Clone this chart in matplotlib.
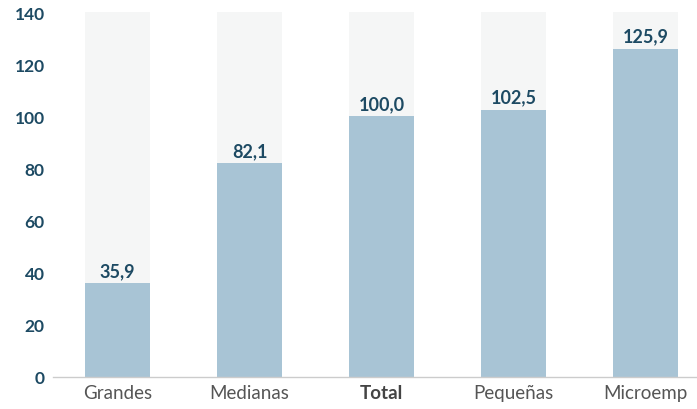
import matplotlib
matplotlib.use("Agg")
import matplotlib.pyplot as plt
from matplotlib.transforms import ScaledTranslation

categories = ["Grandes", "Medianas", "Total", "Pequeñas", "Microemp"]
values = [35.9, 82.1, 100.0, 102.5, 125.9]
value_labels = ["35,9", "82,1", "100,0", "102,5", "125,9"]
y_ticks = [0, 20, 40, 60, 80, 100, 120, 140]
y_max = 140

BAR = "#a8c4d5"
BG = "#f5f6f6"
NAVY = "#1d4a63"
GREY = "#555555"

plt.rcParams["font.family"] = ["Lato", "DejaVu Sans"]

fig = plt.figure(figsize=(6.97, 4.10), dpi=100)
ax = fig.add_axes([53 / 697, 32 / 410, 1 - 53 / 697, (378 - 13) / 410])

x = list(range(len(categories)))
ax.bar(x, [y_max] * len(x), width=0.49, color=BG, zorder=1)
ax.bar(x, values, width=0.49, color=BAR, zorder=2)

for xi, v, lab in zip(x, values, value_labels):
    ax.annotate(lab, (xi, v), xytext=(0, 3), textcoords="offset points",
                ha="center", va="bottom", fontsize=13, fontweight="bold",
                color=NAVY, zorder=3)

ax.set_xlim(-0.49, 4.39)
ax.set_ylim(0, y_max)
ax.set_yticks(y_ticks)
ax.set_yticklabels([str(t) for t in y_ticks], fontsize=12.5,
                   fontweight="bold", color=NAVY)
ax.set_xticks(x)
ax.set_xticklabels(categories, fontsize=13.5, color=GREY)
for lbl in ax.get_xticklabels():
    if lbl.get_text() == "Total":
        lbl.set_fontweight("bold")
        lbl.set_color("#444444")

shift = ScaledTranslation(0, 5 / 100, fig.dpi_scale_trans)
for lbl in ax.get_yticklabels():
    lbl.set_transform(lbl.get_transform() + shift)

ax.tick_params(axis="both", length=0)
ax.tick_params(axis="y", pad=6)
ax.tick_params(axis="x", pad=5)
for side in ("top", "right", "left"):
    ax.spines[side].set_visible(False)
ax.spines["bottom"].set_color("#cccccc")
ax.spines["bottom"].set_linewidth(1)
ax.set_facecolor("white")

fig.savefig("out.png", dpi=100)
